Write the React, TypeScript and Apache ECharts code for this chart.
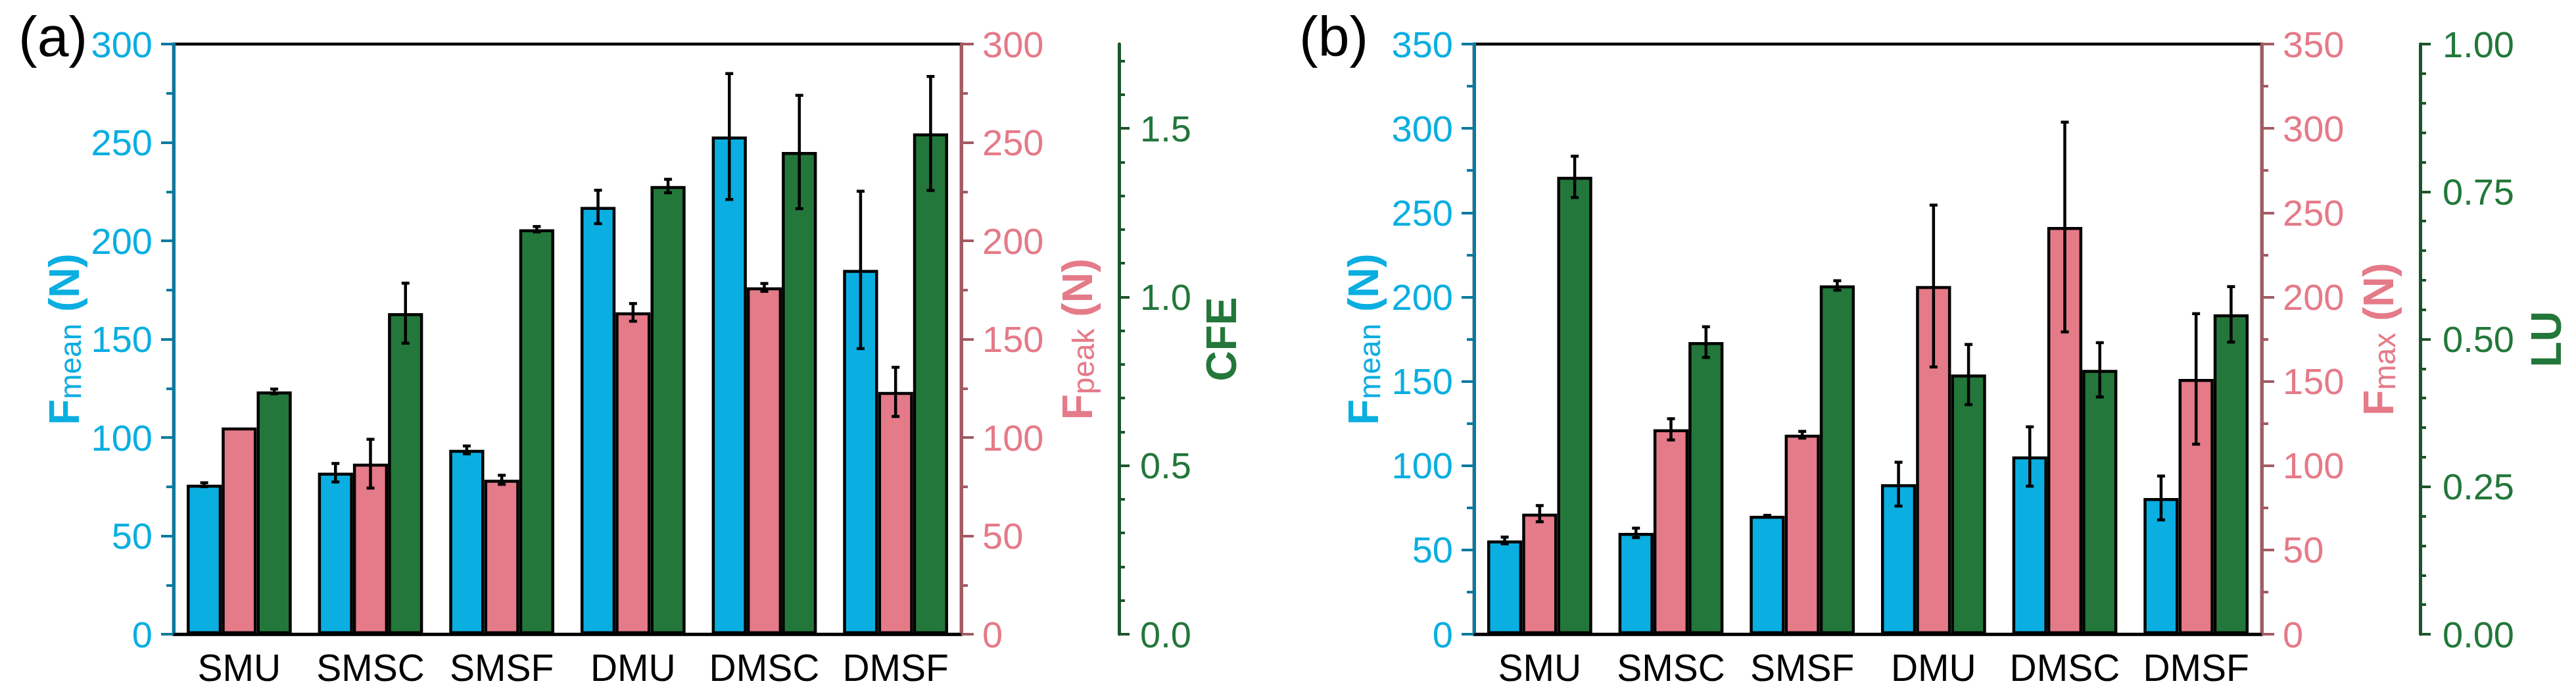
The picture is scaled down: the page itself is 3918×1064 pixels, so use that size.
import { useEffect, useRef } from 'react'
import * as echarts from 'echarts'

const categories = ['SMU', 'SMSC', 'SMSF', 'DMU', 'DMSC', 'DMSF']

// panel (a)
const aMean = [76.0, 82.1, 93.7, 217.2, 253.0, 185.2]
const aMeanErr = [1.0, 4.7, 2.0, 8.5, 32.0, 40.0]
const aPeak = [105.1, 86.7, 78.5, 163.6, 176.3, 123.2]
const aPeakErr = [0, 12.4, 2.3, 4.5, 2.0, 12.5]
const aCfe = [0.72, 0.952, 1.201, 1.329, 1.43, 1.485]
const aCfeErr = [0.007, 0.089, 0.008, 0.02, 0.168, 0.169]

// panel (b)
const bMean = [55.6, 60.1, 70.2, 89.0, 105.4, 80.8]
const bMeanErr = [2.0, 2.8, 0.3, 13.0, 17.6, 13.0]
const bMax = [71.5, 121.5, 118.3, 206.5, 241.5, 151.4]
const bMaxErr = [4.8, 6.3, 2.0, 48.0, 62.2, 38.7]
const bLu = [0.775, 0.495, 0.591, 0.44, 0.448, 0.542]
const bLuErr = [0.035, 0.026, 0.008, 0.051, 0.046, 0.047]

const cfeLabels = [0, 0.5, 1.0, 1.5]
const cfeMinor = Array.from({ length: 18 }, (_, i) => +(i * 0.1).toFixed(1))

const FONT = '"Liberation Sans", Arial, sans-serif'
const BLUE = '#0AAEE1'
const BLUE_LINE = '#0A7A9F'
const PINK = '#E57A88'
const PINK_LINE = '#A35A62'
const GREEN = '#23773A'
const GREEN_LINE = '#1C552B'

function axisName(color: string) {
  return {
    fontFamily: FONT,
    color,
    rich: {
      b: { fontSize: 64, fontWeight: 'bold', color, fontFamily: FONT, lineHeight: 64, verticalAlign: 'top' },
      s: { fontSize: 46, color, fontFamily: FONT, lineHeight: 46, padding: [34, 0, 0, 0], verticalAlign: 'bottom' }
    }
  }
}

function valueAxis(o: any) {
  const { color, lineColor, ...rest } = o
  return {
    type: 'value',
    nameLocation: 'middle',
    splitLine: { show: false },
    axisLine: { show: true, lineStyle: { color: lineColor, width: 5 } },
    axisTick: { show: true, length: 19, lineStyle: { color: lineColor, width: 4 } },
    axisLabel: { color, fontSize: 56, fontFamily: FONT, margin: 32 },
    ...rest
  }
}

function bar(name: string, xi: number, yi: number, color: string, data: number[]) {
  return {
    type: 'bar',
    name,
    xAxisIndex: xi,
    yAxisIndex: yi,
    data,
    barGap: '0%',
    barCategoryGap: '20%',
    itemStyle: { color, borderColor: '#000', borderWidth: 4.5 }
  }
}

function errBars(name: string, xi: number, yi: number, k: number, vals: number[], errs: number[]) {
  return {
    type: 'custom',
    name,
    xAxisIndex: xi,
    yAxisIndex: yi,
    z: 5,
    data: vals.map((v, i) => [i, v, errs[i]]),
    encode: { x: 0, y: 1 },
    renderItem: (_params: any, api: any) => {
      const e = api.value(2)
      if (!e) return null
      const i = api.value(0)
      const v = api.value(1)
      const w = (api.size([1, 0])[0] * 0.8) / 3
      const cx = api.coord([i, v])[0] + (k - 1) * w
      const yt = api.coord([i, v + e])[1]
      const yb = api.coord([i, v - e])[1]
      const style = { stroke: '#000', lineWidth: 4.5 }
      return {
        type: 'group',
        children: [
          { type: 'line', shape: { x1: cx, y1: yt, x2: cx, y2: yb }, style },
          { type: 'line', shape: { x1: cx - 6, y1: yt, x2: cx + 6, y2: yt }, style },
          { type: 'line', shape: { x1: cx - 6, y1: yb, x2: cx + 6, y2: yb }, style }
        ]
      }
    }
  }
}

function catAxis(gi: number) {
  return {
    type: 'category',
    gridIndex: gi,
    data: categories,
    axisLine: { lineStyle: { color: '#000', width: 4.5 } },
    axisTick: { alignWithLabel: true, length: 17, lineStyle: { color: '#000', width: 4 } },
    axisLabel: { color: '#000', fontSize: 57, fontFamily: FONT, margin: 22, interval: 0 }
  }
}

export default function App() {
  const ref = useRef<HTMLDivElement | null>(null)

  useEffect(() => {
    if (!ref.current) return
    document.body.style.margin = '0'
    const chart = echarts.init(ref.current, null, { renderer: 'svg' })

    const option = {
      animation: false,
      backgroundColor: '#fff',
      textStyle: { fontFamily: FONT },
      graphic: [
        { type: 'text', left: 28, top: 12, style: { text: '(a)', fontSize: 86, fontFamily: FONT, fill: '#000' } },
        { type: 'text', left: 1976, top: 12, style: { text: '(b)', fontSize: 86, fontFamily: FONT, fill: '#000' } }
      ],
      grid: [
        { left: 264, top: 67, width: 1198, height: 897, show: true, borderColor: '#000', borderWidth: 4.5 },
        { left: 2242, top: 67, width: 1198, height: 897, show: true, borderColor: '#000', borderWidth: 4.5 }
      ],
      xAxis: [catAxis(0), catAxis(1)],
      yAxis: [
        valueAxis({
          gridIndex: 0, position: 'left', min: 0, max: 300, interval: 50,
          color: BLUE, lineColor: BLUE_LINE,
          minorTick: { show: true, splitNumber: 2, length: 11, lineStyle: { color: BLUE_LINE, width: 4 } },
          name: '{b|F}{s|mean}{b| (N)}', nameGap: 134, nameTextStyle: axisName(BLUE)
        }),
        valueAxis({
          gridIndex: 0, position: 'right', min: 0, max: 300, interval: 50,
          color: PINK, lineColor: PINK_LINE,
          minorTick: { show: true, splitNumber: 2, length: 10, lineStyle: { color: PINK_LINE, width: 4 } },
          name: '{b|F}{s|peak}{b| (N)}', nameGap: 141, nameTextStyle: axisName(PINK)
        }),
        valueAxis({
          gridIndex: 0, position: 'right', offset: 240, min: 0, max: 1.75,
          color: GREEN, lineColor: GREEN_LINE,
          axisTick: { show: true, length: 9, customValues: cfeMinor, lineStyle: { color: GREEN_LINE, width: 4 } },
          axisLabel: { color: GREEN, fontSize: 56, fontFamily: FONT, margin: 32, customValues: cfeLabels, formatter: (v: number) => v.toFixed(1) },
          name: 'CFE', nameGap: 124,
          nameTextStyle: { color: GREEN, fontSize: 64, fontWeight: 'bold', fontFamily: FONT, lineHeight: 64 }
        }),
        {
          type: 'value', gridIndex: 0, position: 'right', offset: 240, min: 0, max: 1.75,
          splitLine: { show: false },
          axisLine: { show: false },
          axisLabel: { show: false },
          axisTick: { show: true, length: 16, customValues: cfeLabels, lineStyle: { color: GREEN_LINE, width: 4 } }
        },
        valueAxis({
          gridIndex: 1, position: 'left', min: 0, max: 350, interval: 50,
          color: BLUE, lineColor: BLUE_LINE,
          minorTick: { show: true, splitNumber: 2, length: 11, lineStyle: { color: BLUE_LINE, width: 4 } },
          name: '{b|F}{s|mean}{b| (N)}', nameGap: 136, nameTextStyle: axisName(BLUE)
        }),
        valueAxis({
          gridIndex: 1, position: 'right', min: 0, max: 350, interval: 50,
          color: PINK, lineColor: PINK_LINE,
          minorTick: { show: true, splitNumber: 2, length: 10, lineStyle: { color: PINK_LINE, width: 4 } },
          name: '{b|F}{s|max}{b| (N)}', nameGap: 146, nameTextStyle: axisName(PINK)
        }),
        valueAxis({
          gridIndex: 1, position: 'right', offset: 241, min: 0, max: 1, interval: 0.25,
          color: GREEN, lineColor: GREEN_LINE,
          axisTick: { show: true, length: 16, lineStyle: { color: GREEN_LINE, width: 4 } },
          minorTick: { show: true, splitNumber: 5, length: 9, lineStyle: { color: GREEN_LINE, width: 4 } },
          axisLabel: { color: GREEN, fontSize: 56, fontFamily: FONT, margin: 34, formatter: (v: number) => v.toFixed(2) },
          name: 'LU', nameGap: 160,
          nameTextStyle: { color: GREEN, fontSize: 64, fontWeight: 'bold', fontFamily: FONT, lineHeight: 64 }
        })
      ],
      series: [
        bar('Fmean a', 0, 0, BLUE, aMean),
        bar('Fpeak a', 0, 1, PINK, aPeak),
        bar('CFE a', 0, 2, GREEN, aCfe),
        bar('Fmean b', 1, 4, BLUE, bMean),
        bar('Fmax b', 1, 5, PINK, bMax),
        bar('LU b', 1, 6, GREEN, bLu),
        errBars('Fmean a err', 0, 0, 0, aMean, aMeanErr),
        errBars('Fpeak a err', 0, 1, 1, aPeak, aPeakErr),
        errBars('CFE a err', 0, 2, 2, aCfe, aCfeErr),
        errBars('Fmean b err', 1, 4, 0, bMean, bMeanErr),
        errBars('Fmax b err', 1, 5, 1, bMax, bMaxErr),
        errBars('LU b err', 1, 6, 2, bLu, bLuErr)
      ]
    }

    chart.setOption(option as any)
    return () => chart.dispose()
  }, [])

  return <div ref={ref} style={{ width: 3918, height: 1064 }} />
}
